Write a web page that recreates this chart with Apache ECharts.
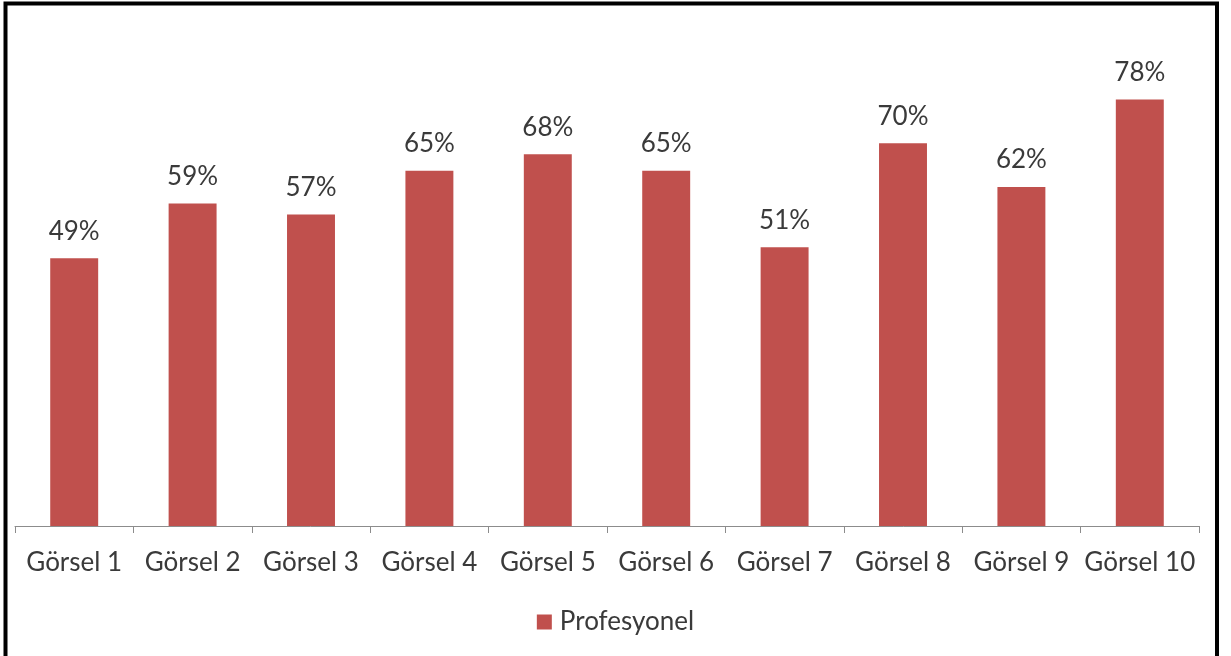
<!DOCTYPE html>
<html>
<head>
<meta charset="utf-8">
<script src="https://cdn.jsdelivr.net/npm/echarts@6/dist/echarts.min.js"></script>
<style>
  html, body { margin: 0; padding: 0; background: #fff; }
  #chart { width: 1231px; height: 656px; }
</style>
</head>
<body>
<div id="chart"></div>
<script>
// Share of "Profesyonel" answers for each image
const categories = ['Görsel 1', 'Görsel 2', 'Görsel 3', 'Görsel 4', 'Görsel 5',
                    'Görsel 6', 'Görsel 7', 'Görsel 8', 'Görsel 9', 'Görsel 10'];
const profesyonel = [49, 59, 57, 65, 68, 65, 51, 70, 62, 78];
const seriesName = 'Profesyonel';

const font = 'Lato, "Open Sans", "DejaVu Sans", sans-serif';
const textColor = '#3a3a3a';

const chart = echarts.init(document.getElementById('chart'), null, { renderer: 'canvas' });
chart.setOption({
  backgroundColor: '#ffffff',
  animation: false,
  graphic: [{
    type: 'rect',
    shape: { x: 5.5, y: 3.5, width: 1211.5, height: 720 },
    style: { fill: 'none', stroke: '#000', lineWidth: 4 },
    silent: true,
    z: 100
  }],
  grid: { left: 15, right: 32, top: 34, bottom: 130, containLabel: false },
  legend: {
    data: [seriesName],
    bottom: 16,
    left: 'center',
    itemWidth: 15,
    itemHeight: 15,
    icon: 'rect',
    textStyle: { fontFamily: font, fontSize: 26, color: textColor, padding: [0, 0, 0, 3] }
  },
  xAxis: {
    type: 'category',
    data: categories,
    axisLine: { lineStyle: { color: '#8c8c8c', width: 1 } },
    axisTick: { show: true, length: 7, lineStyle: { color: '#8c8c8c' } },
    axisLabel: { fontFamily: font, fontSize: 26, color: textColor, margin: 24, interval: 0 }
  },
  yAxis: {
    type: 'value',
    min: 0,
    max: 90,
    show: false,
    splitLine: { show: false }
  },
  series: [{
    name: seriesName,
    type: 'bar',
    data: profesyonel,
    barWidth: '40.5%',
    itemStyle: { color: '#C0504D' },
    label: {
      show: true,
      position: 'top',
      distance: 14,
      formatter: p => p.value + '%',
      fontFamily: font,
      fontSize: 26,
      color: textColor
    }
  }]
});
</script>
</body>
</html>
